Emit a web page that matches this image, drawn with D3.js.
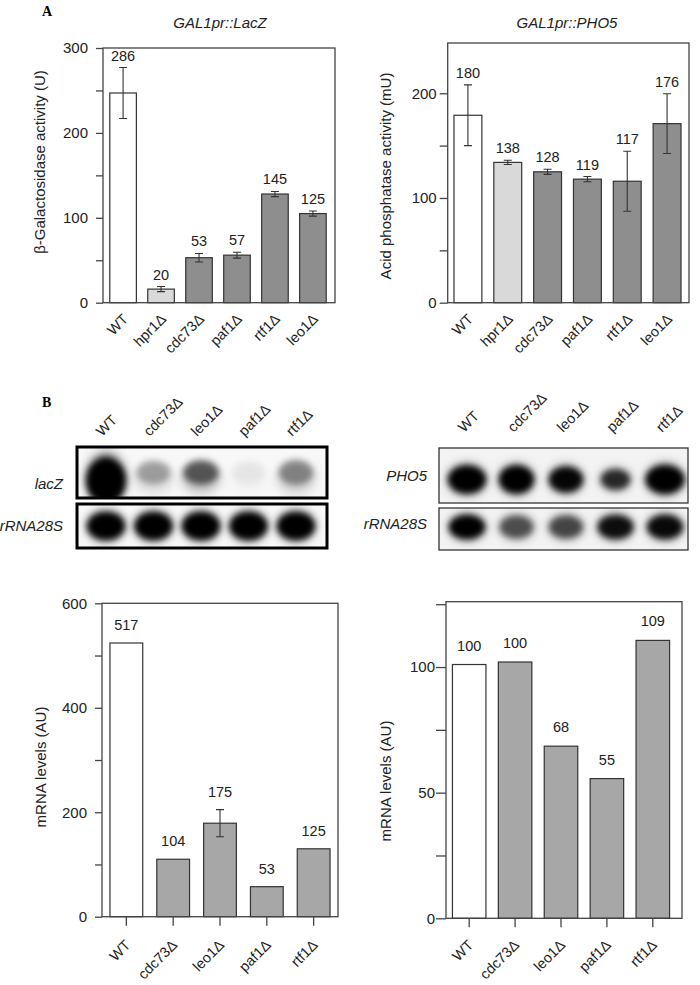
<!DOCTYPE html>
<html><head><meta charset="utf-8">
<script src="https://cdn.jsdelivr.net/npm/d3@7"></script>
<style>body{margin:0;background:#fff} svg{display:block}</style>
</head><body>
<svg id="c" width="700" height="985"></svg>
<script>
// ---------- data ----------
const topCategories = ["WT","hpr1Δ","cdc73Δ","paf1Δ","rtf1Δ","leo1Δ"];
const lacZActivity = [247, 16, 53, 56, 128, 105];
const lacZActivityErr = [30, 3, 5, 3.5, 3, 3];
const lacZActivityLabels = ["286","20","53","57","145","125"];
const pho5Activity = [179, 134, 125, 118, 116, 171];
const pho5ActivityErr = [29, 2, 2.5, 2.5, 28.6, 28.5];
const pho5ActivityLabels = ["180","138","128","119","117","176"];

const blotCategories = ["WT","cdc73Δ","leo1Δ","paf1Δ","rtf1Δ"];
const lacZBlot = [1.0, 0.3, 0.58, 0.06, 0.4];
const rRNABlotLeft = [1, 1, 1, 1, 1];
const pho5Blot = [1, 1, 0.97, 0.78, 1];
const rRNABlotRight = [1, 0.6, 0.64, 0.92, 0.95];

const lacZmRNA = [524, 110, 179, 57.5, 130];
const lacZmRNAErr = [0, 0, 26, 0, 0];
const lacZmRNALabels = ["517","104","175","53","125"];
const pho5mRNA = [101, 102, 68.5, 55.6, 110.6];
const pho5mRNAErr = [0, 0, 0, 0, 0];
const pho5mRNALabels = ["100","100","68","55","109"];

const topTicksL = [0,50,100,150,200,250,300];
const topTicksR = [0,50,100,150,200];
const botTicksL = [0,100,200,300,400,500,600];
const botTicksR = [0,25,50,75,100,125];

// ---------- drawing ----------
const svg = d3.select("#c");
const FONT = "'Liberation Sans', Arial, Helvetica, sans-serif";
const AX = "#444";

function barChart(o){
  const g = svg.append("g");
  const y = d3.scaleLinear().domain(o.domain).range([o.y0, o.yTop]);
  const x = d3.scaleBand().domain(o.cats).range(o.xRange).paddingInner(o.pi).paddingOuter(o.po);
  const data = o.cats.map((c,i)=>({c, v:o.values[i], e:o.errs[i], l:o.labels[i], f:o.fills[i]}));

  g.selectAll("rect.bar").data(data).join("rect")
    .attr("x", d=>x(d.c)).attr("width", x.bandwidth())
    .attr("y", d=>y(d.v)).attr("height", d=>o.y0 - y(d.v))
    .attr("fill", d=>d.f).attr("stroke", "#333").attr("stroke-width", 1.2);

  const eb = data.filter(d=>d.e>0);
  const cap = 4;
  g.selectAll("path.err").data(eb).join("path")
    .attr("d", d=>{
      const cx = x(d.c)+x.bandwidth()/2, t=y(d.v+d.e), b=y(d.v-d.e);
      return `M${cx},${t}V${b}M${cx-cap},${t}H${cx+cap}M${cx-cap},${b}H${cx+cap}`;
    }).attr("stroke","#333").attr("stroke-width",1.1).attr("fill","none");

  g.selectAll("text.val").data(data).join("text")
    .attr("x", d=>x(d.c)+x.bandwidth()/2)
    .attr("y", d=>y(d.v+d.e) - o.labelOff)
    .attr("text-anchor","middle").attr("font-family",FONT).attr("font-size",14.5).attr("fill","#222")
    .text(d=>d.l);

  g.append("rect").attr("x",o.left).attr("y",o.yTop).attr("width",o.right-o.left).attr("height",o.y0-o.yTop)
    .attr("fill","none").attr("stroke",AX).attr("stroke-width",1.3);

  const ax = g.append("g").attr("transform",`translate(${o.left},0)`)
    .call(d3.axisLeft(y).tickValues(o.ticks).tickSize(o.tickSize).tickPadding(o.tickPad)
      .tickFormat(d=>o.labelTicks.includes(d)?d:""));
  ax.select(".domain").remove();
  ax.selectAll("line").attr("stroke",AX).attr("stroke-width",1.3);
  ax.selectAll("text").attr("font-family",FONT).attr("font-size",15).attr("fill","#222");

  if (o.xTicks){
    g.selectAll("line.xt").data(data).join("line")
      .attr("x1",d=>x(d.c)+x.bandwidth()/2).attr("x2",d=>x(d.c)+x.bandwidth()/2)
      .attr("y1",o.y0).attr("y2",o.y0+9).attr("stroke",AX).attr("stroke-width",1.3);
  }
  g.selectAll("text.xl").data(data).join("text")
    .attr("transform", d=>`translate(${x(d.c)+x.bandwidth()/2+o.xlDx},${o.xlY}) rotate(-45)`)
    .attr("text-anchor","end").attr("font-family",FONT).attr("font-size",14.5).attr("fill","#222")
    .text(d=>d.c);

  g.append("text").attr("transform",`translate(${o.ylX},${o.ylY}) rotate(-90)`)
    .attr("text-anchor","middle").attr("font-family",FONT).attr("font-size",o.ylSize||15).attr("fill","#222")
    .text(o.ylabel);
  if (o.title){
    g.append("text").attr("x",o.titleX).attr("y",28).attr("text-anchor","middle")
      .attr("font-family",FONT).attr("font-size",15).attr("font-style","italic").attr("fill","#222")
      .text(o.title);
  }
}

const topFills = ["#ffffff","#d9d9d9","#8e8e8e","#8e8e8e","#8e8e8e","#8e8e8e"];
const botFills = ["#ffffff","#a7a7a7","#a7a7a7","#a7a7a7","#a7a7a7"];

barChart({cats:topCategories, values:lacZActivity, errs:lacZActivityErr, labels:lacZActivityLabels, fills:topFills,
  domain:[0,300], y0:302.7, yTop:48, left:103, right:335, xRange:[106,330], pi:0.3, po:0.1,
  ticks:topTicksL, labelTicks:[0,100,200,300], tickSize:7, tickPad:8, labelOff:7,
  xlDx:6, xlY:320, ylX:45, ylY:162, ylabel:"β-Galactosidase activity (U)", title:"GAL1pr::LacZ", titleX:220});

barChart({cats:topCategories, values:pho5Activity, errs:pho5ActivityErr, labels:pho5ActivityLabels, fills:topFills,
  domain:[0,248], y0:302.7, yTop:43, left:447.7, right:689, xRange:[450,685], pi:0.3, po:0.1,
  ticks:topTicksR, labelTicks:[0,100,200], tickSize:8, tickPad:3, labelOff:7,
  xlDx:6, xlY:320, ylX:391, ylY:176, ylabel:"Acid phosphatase activity (mU)", title:"GAL1pr::PHO5", titleX:567});

barChart({cats:blotCategories, values:lacZmRNA, errs:lacZmRNAErr, labels:lacZmRNALabels, fills:botFills,
  domain:[0,600], y0:916.7, yTop:603.3, left:102, right:338, xRange:[102,338], pi:0.3, po:0.17,
  ticks:botTicksL, labelTicks:[0,200,400,600], tickSize:7, tickPad:8, labelOff:13, xTicks:true,
  xlDx:5, xlY:946, ylX:46, ylY:767, ylabel:"mRNA levels (AU)"});

barChart({cats:blotCategories, values:pho5mRNA, errs:pho5mRNAErr, labels:pho5mRNALabels, fills:botFills,
  domain:[0,126], y0:918.3, yTop:601.7, left:446, right:682, xRange:[446,676], pi:0.27, po:0.14,
  ticks:botTicksR, labelTicks:[0,50,100], tickSize:10, tickPad:1, labelOff:14, xTicks:true,
  xlDx:5, xlY:946, ylX:391, ylY:781, ylabel:"mRNA levels (AU)"});

// panel letters
svg.append("text").attr("x",42).attr("y",16).attr("font-family","'Liberation Serif', 'DejaVu Serif', serif")
  .attr("font-weight","bold").attr("font-size",14).text("A");
svg.append("text").attr("x",42).attr("y",407).attr("font-family","'Liberation Serif', 'DejaVu Serif', serif")
  .attr("font-weight","bold").attr("font-size",14).text("B");

// ---------- blots ----------
const defs = svg.append("defs");
defs.append("filter").attr("id","blur").attr("x","-60%").attr("y","-60%").attr("width","220%").attr("height","220%")
  .append("feGaussianBlur").attr("stdDeviation",3.4);
defs.append("filter").attr("id","blur2").attr("x","-60%").attr("y","-60%").attr("width","220%").attr("height","220%")
  .append("feGaussianBlur").attr("stdDeviation",5);
let clipId = 0;
function blotRow(o){
  const id = "clip"+(clipId++);
  defs.append("clipPath").attr("id",id).append("rect")
    .attr("x",o.x0).attr("y",o.y0).attr("width",o.x1-o.x0).attr("height",o.y1-o.y0);
  const g = svg.append("g");
  g.append("rect").attr("x",o.x0).attr("y",o.y0).attr("width",o.x1-o.x0).attr("height",o.y1-o.y0)
    .attr("fill",o.bg);
  const x = d3.scalePoint().domain(o.cats).range(o.laneRange);
  const gg = g.append("g").attr("clip-path",`url(#${id})`);
  const cy = (o.y0+o.y1)/2 + (o.cyOff||0);
  const lanes = o.cats.map((c,i)=>({c, v:o.vals[i], i}));
  // soft halo / smear
  gg.selectAll("ellipse.halo").data(lanes).join("ellipse")
    .attr("cx",d=>x(d.c)).attr("cy",cy + (o.smear||0))
    .attr("rx",d=>o.rx*1.05*(o.rxMul? o.rxMul[d.i]:1))
    .attr("ry",d=>o.ry*1.2*(o.ryMul? o.ryMul[d.i]:1))
    .attr("fill","#000").attr("fill-opacity",d=>d.v*0.35).attr("filter","url(#blur2)");
  gg.selectAll("ellipse.core").data(lanes).join("ellipse")
    .attr("cx",d=>x(d.c)).attr("cy",d=>cy + (o.cyMul? o.cyMul[d.i]:0))
    .attr("rx",d=>o.rx*(0.85+0.15*d.v)*(o.rxMul? o.rxMul[d.i]:1))
    .attr("ry",d=>o.ry*(0.85+0.15*d.v)*(o.ryMul? o.ryMul[d.i]:1))
    .attr("fill","#000").attr("fill-opacity",d=>d.v).attr("filter","url(#blur)");
  g.append("rect").attr("x",o.x0).attr("y",o.y0).attr("width",o.x1-o.x0).attr("height",o.y1-o.y0)
    .attr("fill","none").attr("stroke",o.stroke).attr("stroke-width",o.sw);
  g.append("text").attr("x",o.labelX).attr("y",o.labelY).attr("text-anchor","end")
    .attr("font-family",FONT).attr("font-size",15).attr("font-style","italic").attr("fill","#222").text(o.label);
}
function laneLabels(cats, range, dx, yb){
  const x = d3.scalePoint().domain(cats).range(range);
  svg.append("g").selectAll("text").data(cats).join("text")
    .attr("transform",d=>`translate(${x(d)+dx},${yb}) rotate(-45)`)
    .attr("font-family",FONT).attr("font-size",14.5).attr("fill","#222").text(d=>d);
}

blotRow({cats:blotCategories, vals:lacZBlot, x0:77, x1:327, y0:447, y1:498, laneRange:[106,296],
  rx:19, ry:13, ryMul:[1.8,1,1,1,1.05], rxMul:[1.05,1,1,1,1], cyMul:[8,0,0,0,0], cyOff:0, smear:6,
  bg:"#f8f8f8", stroke:"#000", sw:3, labelX:63, labelY:489, label:"lacZ"});
blotRow({cats:blotCategories, vals:rRNABlotLeft, x0:77, x1:327, y0:504, y1:548, laneRange:[106,296],
  rx:19, ry:14, cyOff:0, bg:"#f8f8f8", stroke:"#000", sw:3, labelX:63, labelY:531, label:"rRNA28S"});
laneLabels(blotCategories, [106,296], -4, 437);

blotRow({cats:blotCategories, vals:pho5Blot, x0:439, x1:688, y0:448, y1:503, laneRange:[467,665],
  rx:19, ry:14, rxMul:[1,0.92,0.9,0.8,1.02], ryMul:[1,1,0.92,0.75,1.02], cyOff:4,
  bg:"#f3f3f3", stroke:"#333", sw:1.3, labelX:427, labelY:481, label:"PHO5"});
blotRow({cats:blotCategories, vals:rRNABlotRight, x0:439, x1:688, y0:508, y1:550, laneRange:[467,665],
  rx:18, ry:12, cyOff:-2, bg:"#f3f3f3", stroke:"#333", sw:1.3, labelX:427, labelY:529, label:"rRNA28S"});
laneLabels(blotCategories, [467,665], -3, 433);
</script>
</body></html>
